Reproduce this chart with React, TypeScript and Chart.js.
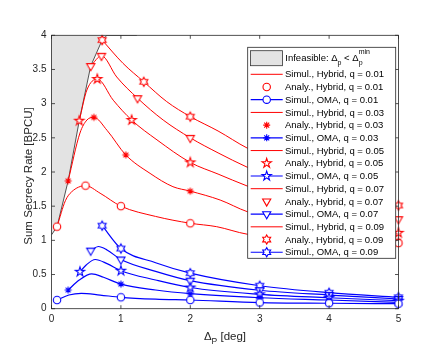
import React, { useEffect, useRef } from 'react';
import { Chart, registerables } from 'chart.js';

Chart.register(...registerables);

// ---------- data ----------
const Q_LABELS = ['0.01', '0.03', '0.05', '0.07', '0.09'];
const MARKER_KINDS = ['circle', 'asterisk', 'pentagram', 'triangle', 'hexagram'];

const X_TICKS = [0, 1, 2, 3, 4, 5];
const X_TICK_LABELS = ['0', '1', '2', '3', '4', '5'];
const Y_TICKS = [0, 0.5, 1, 1.5, 2, 2.5, 3, 3.5, 4];
const Y_TICK_LABELS = ['0', '0.5', '1', '1.5', '2', '2.5', '3', '3.5', '4'];

// infeasible region boundary
const BOUND_X = [0, 0.08, 0.24, 0.4, 0.565, 0.73, 0.8, 1.23];
const BOUND_Y = [1.08, 1.2, 1.87, 2.75, 3.55, 3.93, 4.0, 4.0];

// Simul., Hybrid
const HY_X_01 = [0.08, 0.2, 0.29, 0.49, 0.7, 1.0, 1.5, 2.0, 2.38, 2.82, 3.5, 4.2, 5];
const HY_Y_01 = [1.2, 1.58, 1.71, 1.8, 1.69, 1.5, 1.35, 1.25, 1.2, 1.09, 1.03, 0.99, 0.96];
const HY_X_03 = [0.24, 0.41, 0.51, 0.61, 0.8, 1.07, 1.42, 1.75, 2.0, 2.43, 2.82, 3.5, 4.2, 5];
const HY_Y_03 = [1.87, 2.57, 2.76, 2.8, 2.61, 2.25, 1.98, 1.785, 1.72, 1.59, 1.42, 1.25, 1.1, 0.99];
const HY_X_05 = [0.4, 0.51, 0.66, 0.89, 1.155, 1.52, 2.0, 2.4, 2.82, 3.5, 4.2, 5];
const HY_Y_05 = [2.75, 3.2, 3.36, 3.05, 2.76, 2.47, 2.14, 1.97, 1.795, 1.55, 1.32, 1.11];
const HY_X_07 = [0.565, 0.72, 0.94, 1.24, 1.61, 2.0, 2.4, 2.82, 3.5, 4.2, 5];
const HY_Y_07 = [3.55, 3.7, 3.39, 3.08, 2.76, 2.5, 2.28, 2.07, 1.78, 1.55, 1.31];
const HY_X_09 = [0.73, 1.03, 1.33, 1.66, 2.0, 2.4, 2.82, 3.5, 4.2, 5];
const HY_Y_09 = [3.93, 3.59, 3.32, 3.03, 2.81, 2.6, 2.35, 2.05, 1.78, 1.51];

// Analy., Hybrid
const AN_X_01 = [0.08, 0.49, 1.0, 2.0, 5];
const AN_Y_01 = [1.2, 1.8, 1.5, 1.25, 0.96];
const AN_X_03 = [0.24, 0.61, 1.07, 2.0, 5];
const AN_Y_03 = [1.87, 2.8, 2.25, 1.72, 0.99];
const AN_X_05 = [0.4, 0.66, 1.155, 2.0, 5];
const AN_Y_05 = [2.75, 3.36, 2.76, 2.14, 1.11];
const AN_X_07 = [0.565, 0.72, 1.24, 2.0, 5];
const AN_Y_07 = [3.55, 3.7, 3.08, 2.5, 1.31];
const AN_X_09 = [0.73, 1.33, 2.0, 5];
const AN_Y_09 = [3.93, 3.32, 2.81, 1.51];

// Simul., OMA
const OMA_X_01 = [0.08, 0.25, 0.43, 0.7, 1.0, 1.5, 2, 3, 4, 5];
const OMA_Y_01 = [0.127, 0.2, 0.225, 0.2, 0.167, 0.14, 0.127, 0.09, 0.08, 0.073];
const OMA_X_03 = [0.24, 0.4, 0.58, 0.75, 1.0, 1.5, 2, 3, 4, 5];
const OMA_Y_03 = [0.273, 0.42, 0.51, 0.46, 0.36, 0.274, 0.22, 0.16, 0.127, 0.093];
const OMA_X_05 = [0.41, 0.5, 0.63, 0.8, 1.0, 1.5, 2, 3, 4, 5];
const OMA_Y_05 = [0.54, 0.64, 0.72, 0.66, 0.556, 0.42, 0.31, 0.21, 0.16, 0.117];
const OMA_X_07 = [0.565, 0.675, 0.8, 1.0, 1.5, 2, 3, 4, 5];
const OMA_Y_07 = [0.85, 0.91, 0.86, 0.72, 0.547, 0.41, 0.27, 0.2, 0.142];
const OMA_X_09 = [0.73, 1.0, 1.5, 2, 3, 4, 5];
const OMA_Y_09 = [1.215, 0.88, 0.673, 0.52, 0.336, 0.234, 0.167];
const OMA_MARK_X = [1, 2, 3, 4, 5];

const HY_X = [HY_X_01, HY_X_03, HY_X_05, HY_X_07, HY_X_09];
const HY_Y = [HY_Y_01, HY_Y_03, HY_Y_05, HY_Y_07, HY_Y_09];
const AN_X = [AN_X_01, AN_X_03, AN_X_05, AN_X_07, AN_X_09];
const AN_Y = [AN_Y_01, AN_Y_03, AN_Y_05, AN_Y_07, AN_Y_09];
const OMA_X = [OMA_X_01, OMA_X_03, OMA_X_05, OMA_X_07, OMA_X_09];
const OMA_Y = [OMA_Y_01, OMA_Y_03, OMA_Y_05, OMA_Y_07, OMA_Y_09];

// ---------- styles ----------
const FONT = '"Liberation Sans", Arial, Helvetica, sans-serif';
const RED = '#ff0000';
const BLUE = '#0000ff';
const AXIS_COLOR = '#262626';
const GRAY_FILL = '#e3e3e3';

function paintMarker(ctx: CanvasRenderingContext2D, kind: string, x: number, y: number, color: string) {
  ctx.save();
  ctx.strokeStyle = color;
  ctx.fillStyle = '#ffffff';
  ctx.lineWidth = 1.1;
  ctx.lineJoin = 'miter';
  ctx.beginPath();
  if (kind === 'circle') {
    ctx.arc(x, y, 3.7, 0, Math.PI * 2);
    ctx.fill();
    ctx.stroke();
  } else if (kind === 'asterisk') {
    const R = 3.5;
    for (let k = 0; k < 4; k++) {
      const a = (k * Math.PI) / 4;
      ctx.moveTo(x + R * Math.cos(a), y + R * Math.sin(a));
      ctx.lineTo(x - R * Math.cos(a), y - R * Math.sin(a));
    }
    ctx.stroke();
  } else if (kind === 'pentagram') {
    const R = 4.9;
    const r = R * 0.382;
    for (let k = 0; k < 10; k++) {
      const a = -Math.PI / 2 + (k * Math.PI) / 5;
      const rr = k % 2 === 0 ? R : r;
      const px = x + rr * Math.cos(a);
      const py = y + rr * Math.sin(a);
      if (k === 0) ctx.moveTo(px, py);
      else ctx.lineTo(px, py);
    }
    ctx.closePath();
    ctx.fill();
    ctx.stroke();
  } else if (kind === 'triangle') {
    const R = 4.7;
    ctx.moveTo(x, y + R);
    ctx.lineTo(x - R * 0.866, y - R * 0.5);
    ctx.lineTo(x + R * 0.866, y - R * 0.5);
    ctx.closePath();
    ctx.fill();
    ctx.stroke();
  } else if (kind === 'hexagram') {
    const R = 4.6;
    const r = R / Math.sqrt(3);
    for (let k = 0; k < 12; k++) {
      const a = -Math.PI / 2 + (k * Math.PI) / 6;
      const rr = k % 2 === 0 ? R : r;
      const px = x + rr * Math.cos(a);
      const py = y + rr * Math.sin(a);
      if (k === 0) ctx.moveTo(px, py);
      else ctx.lineTo(px, py);
    }
    ctx.closePath();
    ctx.fill();
    ctx.stroke();
  }
  ctx.restore();
}

function makeMarkerCanvas(kind: string, color: string): HTMLCanvasElement {
  const c = document.createElement('canvas');
  c.width = 16;
  c.height = 16;
  const ctx = c.getContext('2d')!;
  paintMarker(ctx, kind, 8, 8, color);
  return c;
}

const pts = (xs: number[], ys: number[]) => xs.map((x, i) => ({ x, y: ys[i] }));

function drawLegend(ctx: CanvasRenderingContext2D) {
  const L = { left: 247.7, top: 47.3, right: 395.7, bottom: 258.3 };
  ctx.save();
  ctx.fillStyle = '#ffffff';
  ctx.fillRect(L.left, L.top, L.right - L.left, L.bottom - L.top);
  ctx.strokeStyle = AXIS_COLOR;
  ctx.lineWidth = 0.8;
  ctx.strokeRect(L.left, L.top, L.right - L.left, L.bottom - L.top);

  // infeasible entry
  ctx.fillStyle = GRAY_FILL;
  ctx.fillRect(250.5, 50.7, 32, 15);
  ctx.strokeStyle = '#333333';
  ctx.lineWidth = 0.8;
  ctx.strokeRect(250.5, 50.7, 32, 15);

  ctx.fillStyle = '#000000';
  ctx.textBaseline = 'alphabetic';
  ctx.textAlign = 'left';
  const base = 61.3;
  let tx = 285.3;
  ctx.font = `9.5px ${FONT}`;
  const s1 = 'Infeasible: Δ';
  ctx.fillText(s1, tx, base);
  tx += ctx.measureText(s1).width;
  ctx.font = `7px ${FONT}`;
  ctx.fillText('p', tx, base + 3.2);
  tx += ctx.measureText('p').width;
  ctx.font = `9.5px ${FONT}`;
  const s2 = ' < Δ';
  ctx.fillText(s2, tx, base);
  tx += ctx.measureText(s2).width;
  ctx.font = `7px ${FONT}`;
  ctx.fillText('p', tx, base + 3.2);
  ctx.fillText('min', tx, base - 7.5);

  // series entries
  ctx.font = `9.5px ${FONT}`;
  ctx.textBaseline = 'middle';
  for (let r = 0; r < 15; r++) {
    const i = Math.floor(r / 3);
    const kind = r % 3;
    const cy = 74.3 + r * 12.71;
    const q = Q_LABELS[i];
    let label = '';
    if (kind === 0) {
      ctx.strokeStyle = RED;
      ctx.lineWidth = 1;
      ctx.beginPath();
      ctx.moveTo(250.7, cy);
      ctx.lineTo(282.7, cy);
      ctx.stroke();
      label = `Simul., Hybrid, q = ${q}`;
    } else if (kind === 1) {
      paintMarker(ctx, MARKER_KINDS[i], 266.7, cy, RED);
      label = `Analy., Hybrid, q = ${q}`;
    } else {
      ctx.strokeStyle = BLUE;
      ctx.lineWidth = 1.2;
      ctx.beginPath();
      ctx.moveTo(250.7, cy);
      ctx.lineTo(282.7, cy);
      ctx.stroke();
      paintMarker(ctx, MARKER_KINDS[i], 266.7, cy, BLUE);
      label = `Simul., OMA, q = ${q}`;
    }
    ctx.fillStyle = '#000000';
    ctx.fillText(label, 285, cy + 0.5);
  }
  ctx.restore();
}

const decorPlugin = {
  id: 'decor',
  afterDatasetsDraw(chart: any) {
    const { ctx, chartArea: a, scales } = chart;
    const xs = scales.x;
    const ys = scales.y;
    ctx.save();
    ctx.strokeStyle = AXIS_COLOR;
    ctx.lineWidth = 0.8;
    ctx.strokeRect(a.left, a.top, a.right - a.left, a.bottom - a.top);
    const tl = 3.5;
    ctx.beginPath();
    for (const v of X_TICKS) {
      const px = xs.getPixelForValue(v);
      ctx.moveTo(px, a.bottom);
      ctx.lineTo(px, a.bottom - tl);
      ctx.moveTo(px, a.top);
      ctx.lineTo(px, a.top + tl);
    }
    for (const v of Y_TICKS) {
      const py = ys.getPixelForValue(v);
      ctx.moveTo(a.left, py);
      ctx.lineTo(a.left + tl, py);
      ctx.moveTo(a.right, py);
      ctx.lineTo(a.right - tl, py);
    }
    ctx.stroke();
    ctx.restore();
  },
  afterDraw(chart: any) {
    const { ctx, chartArea: a } = chart;
    ctx.save();
    ctx.fillStyle = AXIS_COLOR;
    // y title
    ctx.font = `11.5px ${FONT}`;
    ctx.textAlign = 'center';
    ctx.textBaseline = 'middle';
    ctx.translate(29, 176);
    ctx.rotate(-Math.PI / 2);
    ctx.fillText('Sum Secrecy Rate [BPCU]', 0, 0);
    ctx.restore();

    // x title with subscript
    ctx.save();
    ctx.fillStyle = AXIS_COLOR;
    ctx.textBaseline = 'alphabetic';
    ctx.textAlign = 'left';
    const big = `11.5px ${FONT}`;
    const small = `8.5px ${FONT}`;
    ctx.font = big;
    const wD = ctx.measureText('Δ').width;
    const wR = ctx.measureText(' [deg]').width;
    ctx.font = small;
    const wP = ctx.measureText('P').width;
    const total = wD + wP + wR;
    let x0 = (a.left + a.right) / 2 - total / 2;
    const base = 340.3;
    ctx.font = big;
    ctx.fillText('Δ', x0, base);
    x0 += wD;
    ctx.font = small;
    ctx.fillText('P', x0, base + 3.5);
    x0 += wP;
    ctx.font = big;
    ctx.fillText(' [deg]', x0, base);
    ctx.restore();

    drawLegend(ctx);
  },
};

export default function App() {
  const ref = useRef<HTMLCanvasElement | null>(null);

  useEffect(() => {
    if (!ref.current) return;
    const redM = MARKER_KINDS.map((k) => makeMarkerCanvas(k, RED));
    const blueM = MARKER_KINDS.map((k) => makeMarkerCanvas(k, BLUE));

    const datasets: any[] = [];
    datasets.push({
      label: 'Infeasible',
      data: pts(BOUND_X, BOUND_Y),
      showLine: true,
      fill: 'end',
      backgroundColor: GRAY_FILL,
      borderColor: '#2a2a2a',
      borderWidth: 0.8,
      pointRadius: 0,
      tension: 0,
      order: 10,
    });
    for (let i = 0; i < 5; i++) {
      datasets.push({
        label: `Simul., Hybrid, q = ${Q_LABELS[i]}`,
        data: pts(HY_X[i], HY_Y[i]),
        showLine: true,
        fill: false,
        borderColor: RED,
        borderWidth: 1,
        pointRadius: 0,
        cubicInterpolationMode: 'monotone',
        order: 3,
      });
      datasets.push({
        label: `Analy., Hybrid, q = ${Q_LABELS[i]}`,
        data: pts(AN_X[i], AN_Y[i]),
        showLine: false,
        pointStyle: redM[i],
        pointRadius: 4,
        clip: false,
        order: 0,
      });
      datasets.push({
        label: `Simul., OMA, q = ${Q_LABELS[i]}`,
        data: pts(OMA_X[i], OMA_Y[i]),
        showLine: true,
        fill: false,
        borderColor: BLUE,
        borderWidth: 1.2,
        cubicInterpolationMode: 'monotone',
        pointStyle: blueM[i],
        pointRadius: (c: any) => {
          const p = c.raw;
          if (!p) return 0;
          return c.dataIndex === 0 || OMA_MARK_X.includes(p.x) ? 4 : 0;
        },
        clip: false,
        order: 1,
      });
    }

    const chart = new Chart(ref.current, {
      type: 'scatter',
      data: { datasets },
      options: {
        animation: false,
        responsive: false,
        events: [],
        layout: { padding: { top: 35.3, right: 25.5, left: 0, bottom: 0 } },
        plugins: { legend: { display: false }, tooltip: { enabled: false } },
        scales: {
          x: {
            type: 'linear',
            min: 0,
            max: 5,
            grid: { display: false, drawTicks: false },
            border: { display: false },
            afterBuildTicks: (s: any) => {
              s.ticks = X_TICKS.map((v) => ({ value: v }));
            },
            afterFit: (s: any) => {
              s.height = 354 - 308.7;
            },
            ticks: {
              padding: 5,
              color: AXIS_COLOR,
              font: { family: FONT, size: 10 },
              maxRotation: 0,
              callback: (_v: any, i: number) => X_TICK_LABELS[i],
            },
          },
          y: {
            type: 'linear',
            min: 0,
            max: 4,
            grid: { display: false, drawTicks: false },
            border: { display: false },
            afterBuildTicks: (s: any) => {
              s.ticks = Y_TICKS.map((v) => ({ value: v }));
            },
            afterFit: (s: any) => {
              s.width = 51.5;
            },
            ticks: {
              padding: 5,
              color: AXIS_COLOR,
              font: { family: FONT, size: 10 },
              callback: (_v: any, i: number) => Y_TICK_LABELS[i],
            },
          },
        },
      },
      plugins: [decorPlugin],
    } as any);
    return () => chart.destroy();
  }, []);

  return (
    <div style={{ position: 'fixed', left: 0, top: 0, width: 424, height: 354, background: '#ffffff' }}>
      <canvas ref={ref} width={424} height={354} style={{ display: 'block' }} />
    </div>
  );
}
